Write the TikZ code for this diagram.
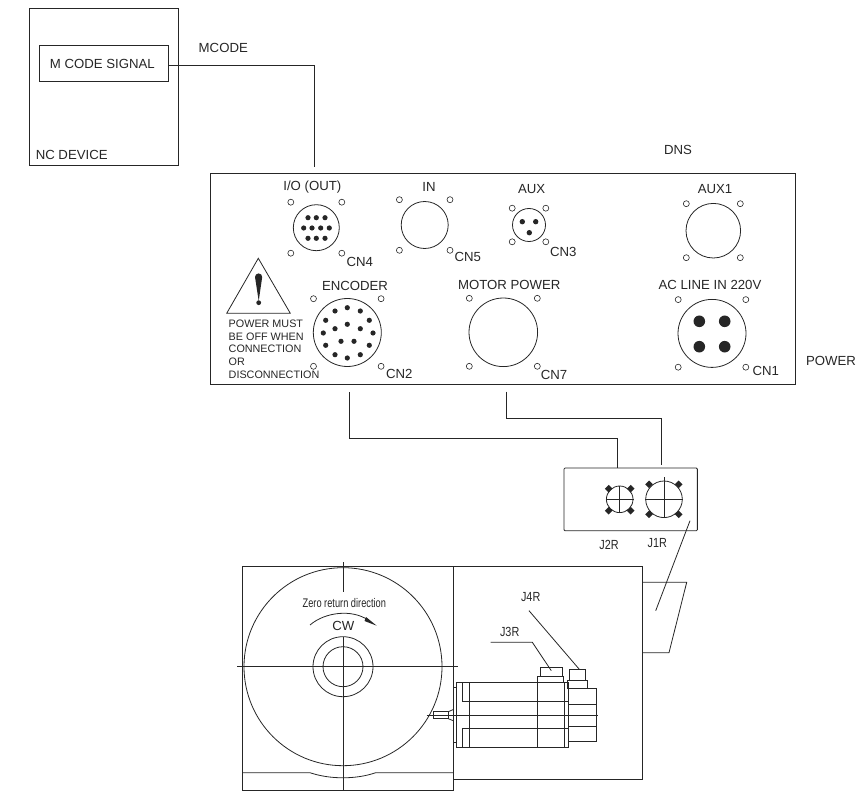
\documentclass[tikz,border=0pt]{standalone}
\usepackage{fontspec}
\setmainfont{Liberation Sans}
\usepackage{tikz}
\usetikzlibrary{positioning,calc}

\begin{document}
\begin{tikzpicture}[x=1pt,y=-1pt,line width=.8pt,color=black!85]
    \tikzstyle{box}=[draw,rectangle,inner sep=0pt,outer sep=0pt]
    \tikzstyle{conn}=[draw,circle,inner sep=0pt,outer sep=0pt]
    \tikzstyle{hole}=[draw,circle,inner sep=0pt,outer sep=0pt,minimum size=6pt,line width=.6pt]
    \tikzstyle{lbl}=[inner sep=0pt,font=\fontsize{13.2}{15}\selectfont]
    \tikzstyle{thin}=[inner sep=0pt,font=\fontsize{13.2}{15}\selectfont,xscale=.82,transform shape]
    \useasboundingbox (0,0) rectangle (864,791);

    % NC device
    \node[box,minimum width=149pt,minimum height=157pt] at (103.8,86.5) (nc) {};
    \node[box,minimum width=129pt,minimum height=36pt] at (104.2,63) (msig) {};
    \node[lbl] at (102.3,64.3) (msigtxt) {M CODE SIGNAL};
    \node[lbl] at (71.7,155.3) (nctxt) {NC DEVICE};
    \node[lbl] at (223.3,48.3) (mcodetxt) {MCODE};
    \node[lbl] at (678,150) (dnstxt) {DNS};
    \node[lbl] at (831,361) (powertxt) {POWER};

    % front panel
    \node[box,minimum width=585pt,minimum height=211pt] at (502.5,278.8) (panel) {};
    \foreach \nm/\cx/\cy/\r/\d in {io/316.3/227.7/23/25.5,in/424.7/225/23.5/25.3,aux/529/225/16.5/16.8,
      auxa/713.3/230.7/27.3/27,enc/347.3/332.5/34/33.8,mot/503.3/332.3/34.3/34,ac/712/333.4/34/33.8} {
      \node[conn,minimum size={2*\r pt}] at (\cx,\cy) (\nm) {};
      \foreach \sx in {-1,1} {
        \foreach \sy in {-1,1} {
          \node[hole] at (\cx+\sx*\d,\cy+\sy*\d) {};
        }
      }
    }
    \foreach \px/\py in {308/217.7,316.3/217.7,325/217.7,303.7/228,312/228,320.7/228,329.3/228,308/238.3,316.3/238.3,325/238.3} {
      \fill (\px,\py) circle (2.6);
    }
    \foreach \px/\py in {522.3/221.7,535.7/221.7,529.3/232.7} {
      \fill (\px,\py) circle (2.7);
    }
    \foreach \px/\py in {347.3/307.7,335/311,360.3/311,325.7/320.3,369.3/320.3,335/328.7,347.3/324.3,360.3/328.7,
      323.3/333,373/333,341/341.3,354/341.3,325.7/345.3,369.3/345.3,335/354.7,360.3/354.7,347.3/358} {
      \fill (\px,\py) circle (2.6);
    }
    \foreach \px/\py in {699.3/321.3,724.7/321.3,699.3/346.7,724.7/346.7} {
      \fill (\px,\py) circle (5.8);
    }
    \foreach \nm/\cx/\cy/\txt in {a/312.3/186.7/I\slash O (OUT),b/429/187.3/IN,c/531.7/189.3/AUX,d/715/189/AUX1,
      e/355/286.3/ENCODER,f/509.3/285/MOTOR POWER,g/710/285/AC LINE IN 220V,h/359.7/262.3/CN4,i/467.7/257.3/CN5,
      j/563.3/251.7/CN3,k/399.3/374.3/CN2,l/554/375/CN7,m/765.7/371/CN1} {
      \node[lbl] at (\cx,\cy) (txt\nm) {\txt};
    }

    % warning sign
    \draw (258.3,258.3) -- (226.7,313.3) -- (290.3,313.3) -- cycle;
    \fill (255,277) arc (180:360:3.6) -- (258.7,301) -- cycle;
    \fill (258.7,302.7) circle (2.4);
    \node[inner sep=0pt,anchor=north west,align=left,font=\fontsize{10.8}{12.7}\selectfont] at (228.3,319.5) (warn)
      {POWER MUST\\BE OFF WHEN\\CONNECTION\\OR\\DISCONNECTION};

    % servo amp box
    \node[box,rounded corners=1pt,minimum width=133.3pt,minimum height=62.7pt] at (630.7,499.4) (jbox) {};
    \node[conn,minimum size=26.6pt] at (619.7,499.3) (jtwo) {};
    \node[conn,minimum size=36.6pt] at (664,499.3) (jone) {};
    \draw (605.5,499.3) -- (633.5,499.3) (619.5,486) -- (619.5,513);
    \draw (645.3,499.3) -- (682.7,499.3) (664,477.3) -- (664,517.3);
    \foreach \px/\py in {608.7/488.7,630.7/488.7,608.7/510.7,630.7/510.7,649/484.3,678.7/484.3,649/514.3,678.7/514.3} {
      \fill (\px-3.8,\py) -- (\px,\py-3.8) -- (\px+3.8,\py) -- (\px,\py+3.8) -- cycle;
    }
    \node[thin] at (609,544.7) (jtwotxt) {J2R};
    \node[thin] at (657.3,543.3) (jonetxt) {J1R};

    % wires
    \coordinate (mcend) at (314,166.7);
    \coordinate (enca) at (349.7,392.3);
    \coordinate (encb) at (617,438.3);
    \coordinate (mota) at (506,391.7);
    \coordinate (motb) at (661.3,418.3);
    \coordinate (motc) at (661.3,465);
    \draw ($(msig.east)+(0,2.3)$) -| (mcend);
    \draw (enca) |- (encb) -- (encb |- jbox.north);
    \draw (mota) |- (motb) -- (motc);

    % rotary table
    \draw (242.3,566) rectangle (453.5,790);
    \draw (453.5,566) -- (642.5,566) -- (642.5,779.5) -- (453.5,779.5);
    \draw (643,582.3) -- (686.7,582.3) -- (669,652.7) -- (643,652.7);
    \draw (690,520.7) -- (655.7,610.7);
    \draw (343,666.7) circle (99);
    \draw (343,666.7) circle (30);
    \draw (343,666.7) circle (20);
    \draw (237.3,666.7) -- (458.3,666.7);
    \draw (343,562.3) -- (343,591.7);
    \draw (343,636.7) -- (343,790);
    \draw (242.3,772.7) -- (310,772.7) .. controls (330,779.5) and (356,779.5) .. (375.7,772.7) -- (453.5,772.7);
    \node[inner sep=0pt,font=\fontsize{12.5}{15}\selectfont,xscale=.74,transform shape] at (344.3,602.7) (zerotxt) {Zero return direction};
    \node[lbl] at (343.3,625.7) (cwtxt) {CW};
    \draw (310,625) .. controls (325,612) and (352,609) .. (368,620);
    \fill (376.7,625.7) -- (366,617) -- (364.5,621) -- cycle;

    % servo motor
    \draw (456.7,682.7) rectangle (568.3,747.3);
    \draw (453.3,687.7) rectangle (456.7,742.7);
    \draw (469,682.7) -- (469,747.3) (537.3,682.7) -- (537.3,747.3) (564.3,682.7) -- (564.3,747.3);
    \draw (462.3,682.7) -- (462.3,701.7) -- (568.3,701.7);
    \draw (462.3,747.3) -- (462.3,728.3) -- (568.3,728.3);
    \draw (426.7,715.3) -- (597.7,715.3);
    \draw (433.3,711.7) rectangle (448.3,718.7);
    \draw (448.3,711.7) -- (453.3,709.5) (448.3,718.7) -- (453.3,720.7);
    \draw (537.7,682.7) -- (537.7,676.7) -- (563.3,676.7) -- (563.3,682.7);
    \draw (540.3,676.7) -- (540.3,667) -- (562,667) -- (562,676.7);
    \draw (568.3,688.7) -- (596,688.7) -- (596,741.7) -- (568.3,741.7);
    \draw (568.3,704.3) -- (596,704.3) (568.3,726) -- (596,726);
    \draw (567.7,688.7) -- (567.7,680) -- (587,680) -- (587,688.7);
    \draw (569.3,680) -- (569.3,669.3) -- (585,669.3) -- (585,680);
    \draw (529,610.7) -- (579.3,669.3);
    \draw (490.7,642.3) -- (532.3,642.3) -- (551.3,670.7);
    \node[thin] at (530.7,597.3) (jfourtxt) {J4R};
    \node[thin] at (509.7,631.7) (jthreetxt) {J3R};
\end{tikzpicture}
\end{document}
